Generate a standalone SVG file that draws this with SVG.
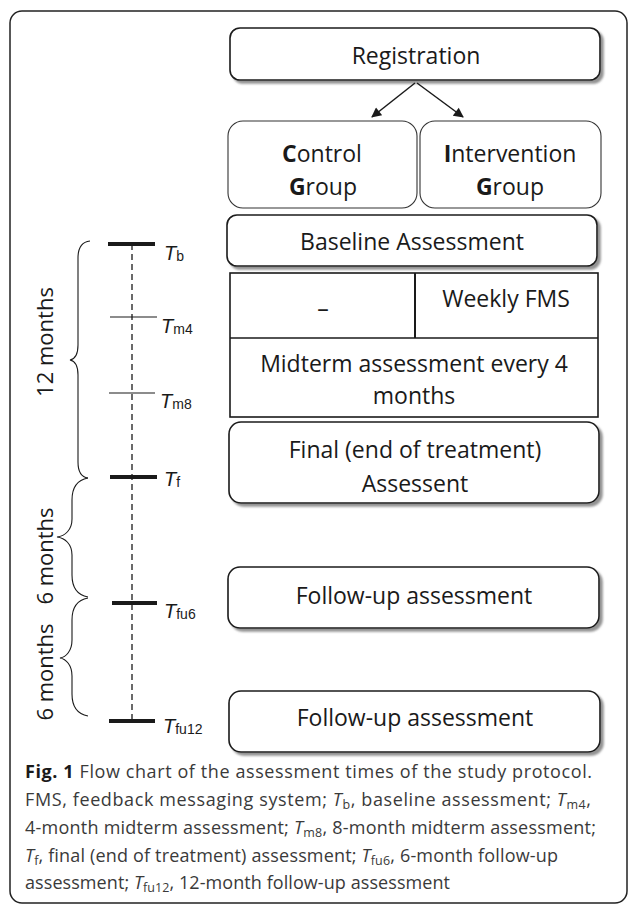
<svg xmlns="http://www.w3.org/2000/svg" width="629" height="906" viewBox="0 0 629 906">
<defs>
<marker id="ah" viewBox="0 0 10 10" refX="9" refY="5" markerWidth="12" markerHeight="10" markerUnits="userSpaceOnUse" orient="auto"><path d="M0,0 L10,5 L0,10 z" fill="#1a1a1a"/></marker>
<filter id="sh" x="-5%" y="-10%" width="115%" height="135%"><feDropShadow dx="3" dy="3" stdDeviation="1" flood-color="#777" flood-opacity="0.8"/></filter>
</defs>
<style>
.frame{fill:#fff;stroke:#222;stroke-width:1.5}
.box{fill:#fff;stroke:#1a1a1a;stroke-width:1.6}
.grp{fill:#fff;stroke:#333;stroke-width:1.1}
.t{font-family:"Open Sans","Liberation Sans",sans-serif;font-size:23px;fill:#1a1a1a;text-anchor:middle}
.lbl{font-family:"Liberation Sans",Arial,sans-serif;font-size:20px;fill:#1a1a1a}
.it{font-style:italic}
.sub{font-size:14px}
.tick{stroke:#1a1a1a;stroke-width:4}
.tk{stroke:#1a1a1a;stroke-width:1.2}
.dash{stroke:#1a1a1a;stroke-width:1.3;stroke-dasharray:6 4}
.brace{fill:none;stroke:#1a1a1a;stroke-width:1.1}
.rot{font-family:"Open Sans","Liberation Sans",sans-serif;font-size:22px;fill:#1a1a1a;text-anchor:middle}
.cap{font-family:"Open Sans","Liberation Sans",sans-serif;font-size:18px;fill:#3a3a3a}
.csub{font-size:12.5px}
.arrow{stroke:#1a1a1a;stroke-width:1.5;fill:none}
</style>

<rect class="frame" x="10" y="11" width="617" height="892" rx="12"/>

<g id="registration">
<rect class="box" x="230" y="28" width="370" height="52" rx="10" filter="url(#sh)"/>
<text class="t" x="416" y="64">Registration</text>
</g>

<g id="control-group">
<rect class="grp" x="228" y="121" width="189" height="87" rx="15"/>
<text class="t" x="322" y="162"><tspan font-weight="bold">C</tspan>ontrol</text>
<text class="t" x="323" y="195"><tspan font-weight="bold">G</tspan>roup</text>
</g>

<g id="intervention-group">
<rect class="grp" x="420" y="121" width="181" height="87" rx="15"/>
<text class="t" x="510" y="162"><tspan font-weight="bold">I</tspan>ntervention</text>
<text class="t" x="510" y="195"><tspan font-weight="bold">G</tspan>roup</text>
</g>

<g id="baseline">
<rect class="box" x="227" y="215" width="370" height="51" rx="10" filter="url(#sh)"/>
<text class="t" x="412" y="250">Baseline Assessment</text>
</g>

<g id="midterm-table">
<rect class="box" x="230" y="273" width="368" height="144" rx="0"/>
<line x1="230" y1="338" x2="598" y2="338" stroke="#1a1a1a" stroke-width="1.6"/>
<line x1="415" y1="273" x2="415" y2="338" stroke="#1a1a1a" stroke-width="2"/>
<text class="t" x="323" y="317">–</text>
<text class="t" x="506" y="307">Weekly FMS</text>
<text class="t" x="414" y="372">Midterm assessment every 4</text>
<text class="t" x="414" y="404">months</text>
</g>

<g id="final">
<rect class="box" x="229" y="422" width="370" height="81" rx="12" filter="url(#sh)"/>
<text class="t" x="415" y="458">Final (end of treatment)</text>
<text class="t" x="415" y="492">Assessent</text>
</g>

<g id="followup-6">
<rect class="box" x="228" y="567" width="371" height="61" rx="12" filter="url(#sh)"/>
<text class="t" x="414" y="604">Follow-up assessment</text>
</g>

<g id="followup-12">
<rect class="box" x="229" y="691" width="371" height="61" rx="12" filter="url(#sh)"/>
<text class="t" x="415" y="726">Follow-up assessment</text>
</g>

<g id="connectors">
<line class="arrow" x1="415" y1="83" x2="372" y2="117" marker-end="url(#ah)"/>
<line class="arrow" x1="417" y1="83" x2="463" y2="117" marker-end="url(#ah)"/>
</g>

<g id="timeline">
<line class="dash" x1="132" y1="244" x2="132" y2="721"/>
<line class="tick" x1="108" y1="244" x2="155" y2="244"/>
<line class="tk" x1="110" y1="317" x2="157" y2="317"/>
<line class="tk" x1="109" y1="393" x2="155" y2="393"/>
<line class="tick" x1="110" y1="477" x2="157" y2="477"/>
<line class="tick" x1="112" y1="603" x2="157" y2="603"/>
<line class="tick" x1="109" y1="721" x2="155" y2="721"/>
<text class="lbl" x="164" y="260"><tspan class="it">T</tspan><tspan class="sub" dy="1">b</tspan></text>
<text class="lbl" x="161" y="333"><tspan class="it">T</tspan><tspan class="sub" dy="1">m4</tspan></text>
<text class="lbl" x="160" y="408"><tspan class="it">T</tspan><tspan class="sub" dy="1">m8</tspan></text>
<text class="lbl" x="164" y="486"><tspan class="it">T</tspan><tspan class="sub" dy="1">f</tspan></text>
<text class="lbl" x="164" y="618"><tspan class="it">T</tspan><tspan class="sub" dy="1">fu6</tspan></text>
<text class="lbl" x="163" y="733"><tspan class="it">T</tspan><tspan class="sub" dy="1">fu12</tspan></text>
</g>

<g id="braces">
<path class="brace" d="M90,241 C81,242 78,248 78,258 L78,345 C78,354 75,359 70,360 C75,361 78,366 78,375 L78,462 C78,472 81,477 88,478"/>
<path class="brace" d="M88,478 C77,480 72,488 72,500 L72,519 C72,530 65,536 57,537 C65,538 72,544 72,555 L72,575 C72,587 77,595 88,597"/>
<path class="brace" d="M88,598 C77,600 72,608 72,620 L72,640 C72,651 66,657 60,658 C66,659 72,665 72,676 L72,694 C72,706 77,714 88,716"/>
<text class="rot" transform="translate(53,342) rotate(-90)">12 months</text>
<text class="rot" transform="translate(53,556) rotate(-90)">6 months</text>
<text class="rot" transform="translate(53,672) rotate(-90)">6 months</text>
</g>

<g id="caption">
<text class="cap" x="25" y="778" textLength="567" lengthAdjust="spacing"><tspan font-weight="bold" fill="#1a1a1a">Fig. 1</tspan> Flow chart of the assessment times of the study protocol.</text>
<text class="cap" x="25" y="806" textLength="566" lengthAdjust="spacing">FMS, feedback messaging system; <tspan class="it">T</tspan><tspan class="csub" dy="3">b</tspan><tspan dy="-3">, baseline assessment; </tspan><tspan class="it">T</tspan><tspan class="csub" dy="3">m4</tspan><tspan dy="-3">,</tspan></text>
<text class="cap" x="25" y="834" textLength="571" lengthAdjust="spacing">4-month midterm assessment; <tspan class="it">T</tspan><tspan class="csub" dy="3">m8</tspan><tspan dy="-3">, 8-month midterm assessment;</tspan></text>
<text class="cap" x="25" y="862" textLength="533" lengthAdjust="spacing"><tspan class="it">T</tspan><tspan class="csub" dy="3">f</tspan><tspan dy="-3">, final (end of treatment) assessment; </tspan><tspan class="it">T</tspan><tspan class="csub" dy="3">fu6</tspan><tspan dy="-3">, 6-month follow-up</tspan></text>
<text class="cap" x="25" y="889" textLength="425" lengthAdjust="spacing">assessment; <tspan class="it">T</tspan><tspan class="csub" dy="3">fu12</tspan><tspan dy="-3">, 12-month follow-up assessment</tspan></text>
</g>
</svg>
